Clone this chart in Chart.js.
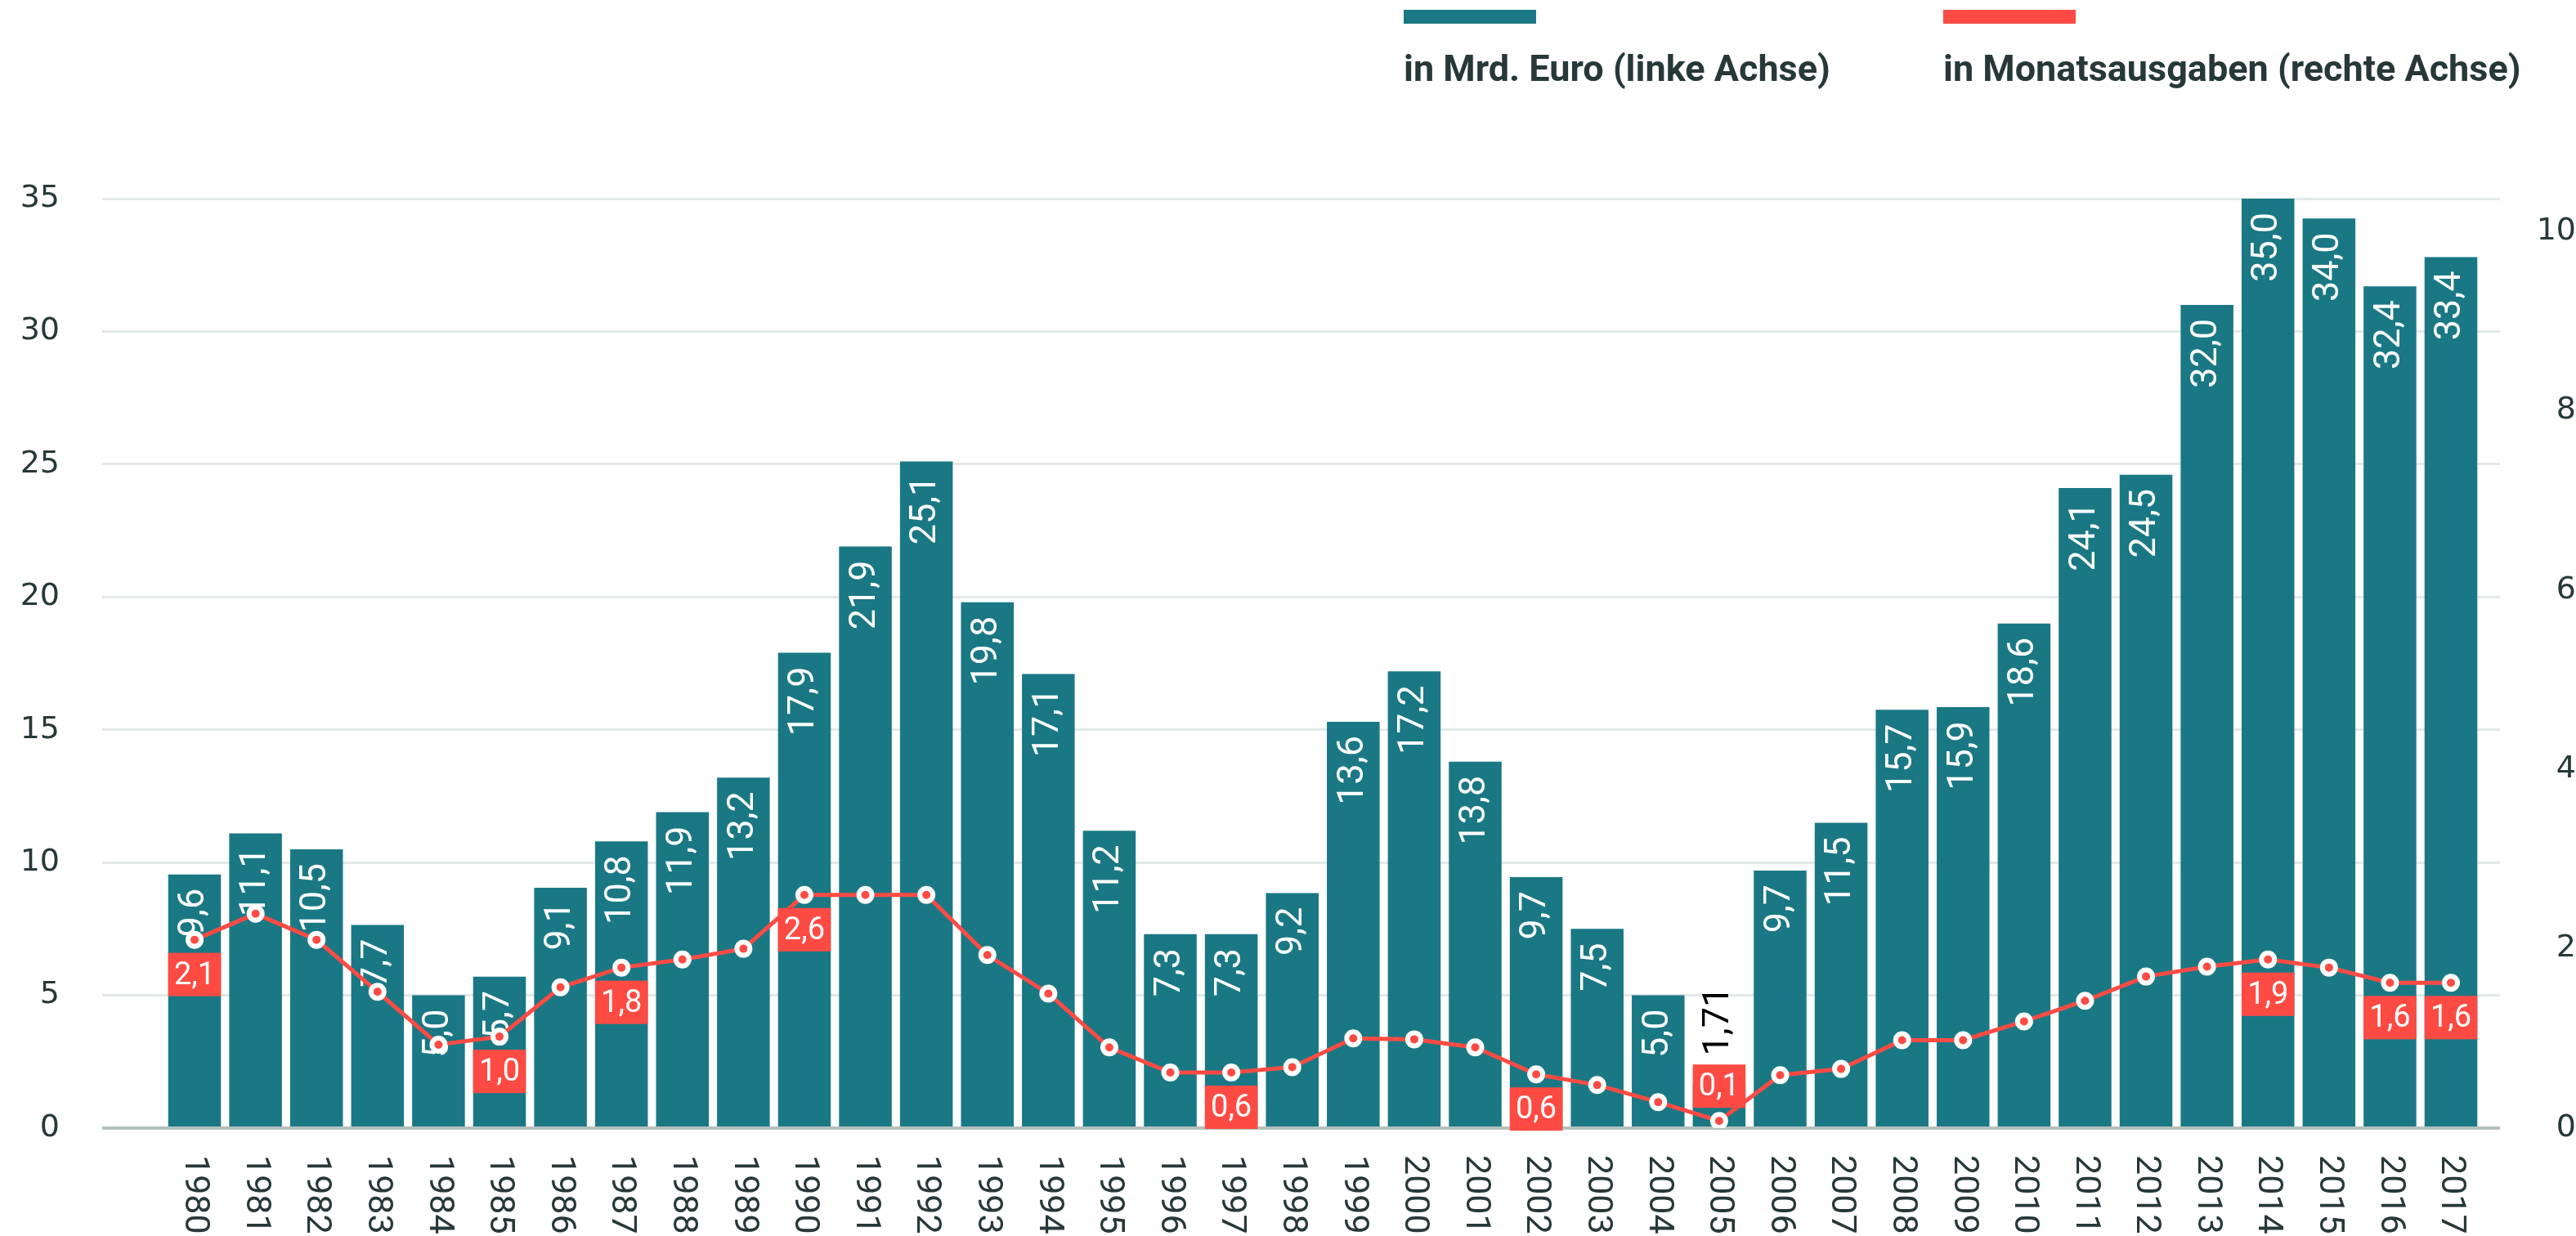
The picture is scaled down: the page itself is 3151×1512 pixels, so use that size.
<!DOCTYPE html>
<html>
<head>
<meta charset="utf-8">
<script src="https://cdn.jsdelivr.net/npm/chart.js@4/dist/chart.umd.min.js"></script>
<style>
  html, body { margin: 0; padding: 0; background: #fff; }
  canvas { display: block; }
</style>
</head>
<body>
<canvas id="chart" width="3151" height="1512"></canvas>
<script>
// Reserve: Bestand in Mrd. Euro (Balken) und in Monatsausgaben (Linie)

const jahre = [1980, 1981, 1982, 1983, 1984, 1985, 1986, 1987, 1988, 1989,
  1990, 1991, 1992, 1993, 1994, 1995, 1996, 1997, 1998, 1999,
  2000, 2001, 2002, 2003, 2004, 2005, 2006, 2007, 2008, 2009,
  2010, 2011, 2012, 2013, 2014, 2015, 2016, 2017];

// Balkenhöhen, wie sie im Bild stehen
const mrdEuro = [9.55, 11.1, 10.5, 7.65, 5.0, 5.7, 9.05, 10.8, 11.9, 13.2,
  17.9, 21.9, 25.1, 19.8, 17.1, 11.2, 7.3, 7.3, 8.85, 15.3,
  17.2, 13.8, 9.45, 7.5, 5.0, 1.71, 9.7, 11.5, 15.75, 15.85,
  19.0, 24.1, 24.6, 31.0, 35.0, 34.25, 31.7, 32.8];

// Beschriftung der Balken (weicht teils von der Höhe ab)
const mrdEuroText = [9.6, 11.1, 10.5, 7.7, 5.0, 5.7, 9.1, 10.8, 11.9, 13.2,
  17.9, 21.9, 25.1, 19.8, 17.1, 11.2, 7.3, 7.3, 9.2, 13.6,
  17.2, 13.8, 9.7, 7.5, 5.0, 1.71, 9.7, 11.5, 15.7, 15.9,
  18.6, 24.1, 24.5, 32.0, 35.0, 34.0, 32.4, 33.4];

const monate = [2.1, 2.39, 2.1, 1.52, 0.93, 1.02, 1.57, 1.79, 1.88, 2.0,
  2.6, 2.6, 2.6, 1.93, 1.5, 0.9, 0.62, 0.62, 0.68, 1.0,
  0.99, 0.9, 0.6, 0.48, 0.29, 0.08, 0.59, 0.66, 0.98, 0.98,
  1.19, 1.42, 1.69, 1.8, 1.88, 1.79, 1.62, 1.62];

// rote Kästchen, nur für einzelne Jahre
const monateText = [2.1, null, null, null, null, 1.0, null, 1.8, null, null,
  2.6, null, null, null, null, null, null, 0.6, null, null,
  null, null, 0.6, null, null, 0.1, null, null, null, null,
  null, null, null, null, 1.9, null, 1.6, 1.6];

const ticksLinks = [0, 5, 10, 15, 20, 25, 30, 35];
const ticksRechts = [0, 2, 4, 6, 8, 10];

const TEAL = '#1a7884';
const ROT = '#fd4b44';
const DUNKEL = '#273838';

function fmt(v) {
  const s = Number.isInteger(v) ? v.toFixed(1) : String(v);
  return s.replace('.', ',');
}

// ─── Beschriftungen: Balkenwerte, rote Kästchen, Jahre, Legende ─────────
const beschriftung = {
  id: 'beschriftung',
  afterDatasetDraw(chart, args) {
    if (args.index !== 0) return;
    const ctx = chart.ctx;
    const area = chart.chartArea;
    const bars = chart.getDatasetMeta(0).data;
    const pts = chart.getDatasetMeta(1).data;
    ctx.save();
    ctx.font = '45px Roboto';
    ctx.textBaseline = 'middle';
    bars.forEach((bar, i) => {
      const txt = fmt(mrdEuroText[i]);
      const w = ctx.measureText(txt).width;
      ctx.save();
      ctx.translate(bar.x, bar.y);
      ctx.rotate(-Math.PI / 2);
      if (w + 34 < bar.base - bar.y) {
        ctx.fillStyle = '#fff';
        ctx.textAlign = 'right';
        ctx.fillText(txt, -17, 0);
      } else {
        ctx.fillStyle = '#000';
        ctx.textAlign = 'left';
        ctx.fillText(txt, 33, 0);
      }
      ctx.restore();
    });

    ctx.font = '38px Roboto';
    ctx.textAlign = 'center';
    monateText.forEach((v, i) => {
      if (v == null) return;
      const p = pts[i], b = bars[i];
      const w = b.width, h = 53;
      let top = p.y + 16;
      if (top + h > area.bottom + 8) top = p.y - 16 - h;
      ctx.fillStyle = ROT;
      ctx.fillRect(b.x - w / 2, top, w, h);
      ctx.fillStyle = '#fff';
      ctx.fillText(fmt(v), b.x, top + h / 2 + 2);
    });
    ctx.restore();
  },
  afterDraw(chart) {
    const ctx = chart.ctx;
    const area = chart.chartArea;
    const xs = chart.scales.x;
    ctx.save();
    ctx.font = '43px Roboto';
    ctx.fillStyle = DUNKEL;
    ctx.textAlign = 'left';
    ctx.textBaseline = 'middle';
    jahre.forEach(j => {
      ctx.save();
      ctx.translate(xs.getPixelForValue(j), area.bottom + 33);
      ctx.rotate(Math.PI / 2);
      ctx.fillText(String(j), 0, 0);
      ctx.restore();
    });

    // Legende: Farbbalken über dem Text
    const lx = [1717, 2377];
    ctx.font = 'bold 45px Roboto';
    ctx.textBaseline = 'alphabetic';
    chart.data.datasets.forEach((ds, i) => {
      ctx.fillStyle = ds.legendColor;
      ctx.fillRect(lx[i], 12, 162, 17);
      ctx.fillStyle = DUNKEL;
      ctx.fillText(ds.label, lx[i], 99);
    });
    ctx.restore();
  }
};

new Chart(document.getElementById('chart'), {
  data: {
    datasets: [
      {
        type: 'bar', label: 'in Mrd. Euro (linke Achse)', legendColor: TEAL,
        data: jahre.map((j, i) => ({ x: j, y: mrdEuro[i] })),
        backgroundColor: TEAL, yAxisID: 'y', order: 1,
        categoryPercentage: 1, barPercentage: 0.865
      },
      {
        type: 'line', label: 'in Monatsausgaben (rechte Achse)', legendColor: ROT,
        data: jahre.map((j, i) => ({ x: j, y: monate[i] })),
        borderColor: ROT, borderWidth: 5, tension: 0,
        pointRadius: 8, pointBorderWidth: 6,
        pointBackgroundColor: ROT, pointBorderColor: '#fff',
        yAxisID: 'y1', order: 0
      }
    ]
  },
  options: {
    responsive: false,
    animation: false,
    devicePixelRatio: 1,
    layout: { padding: { top: 243, bottom: 132, left: 0, right: 0 } },
    plugins: { legend: { display: false }, tooltip: { enabled: false } },
    scales: {
      x: { type: 'linear', display: false, offset: false, min: 1978.485, max: 2017.804 },
      y: {
        position: 'left', min: 0, max: 35,
        afterBuildTicks: s => { s.ticks = ticksLinks.map(v => ({ value: v })); },
        afterFit: s => { s.width = 125; },
        border: { display: false },
        grid: {
          drawTicks: false,
          color: c => c.tick && c.tick.value === 0 ? '#b5c0c0' : '#e3e8e8',
          lineWidth: c => c.tick && c.tick.value === 0 ? 4 : 3
        },
        ticks: { padding: 52, color: DUNKEL, font: { family: 'DejaVu Sans', size: 38 } }
      },
      y1: {
        position: 'right', min: 0, max: 10.365,
        afterBuildTicks: s => { s.ticks = ticksRechts.map(v => ({ value: v })); },
        afterFit: s => { s.width = 93; },
        border: { display: false },
        grid: { display: false },
        ticks: { padding: 0, crossAlign: 'far', color: DUNKEL, font: { family: 'DejaVu Sans', size: 38 } }
      }
    }
  },
  plugins: [beschriftung]
});
</script>
</body>
</html>
